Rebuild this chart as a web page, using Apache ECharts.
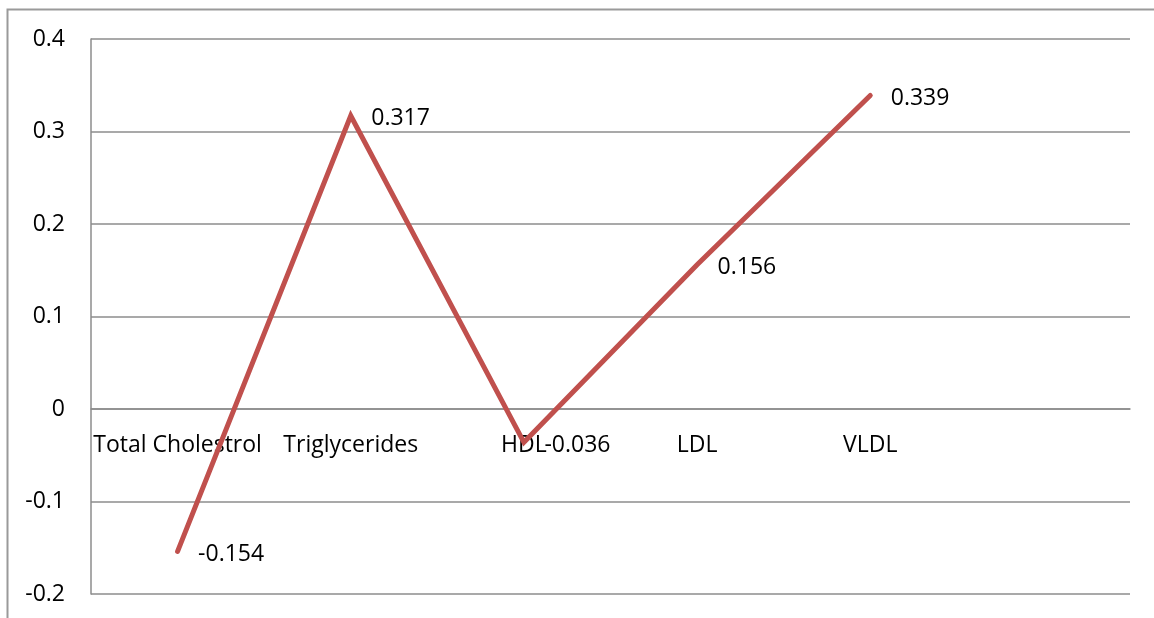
<!DOCTYPE html>
<html>
<head>
<meta charset="utf-8">
<script src="https://cdn.jsdelivr.net/npm/echarts@6/dist/echarts.min.js"></script>
<style>
  html, body { margin: 0; padding: 0; background: #fff; }
  #chart { width: 1154px; height: 618px; }
</style>
</head>
<body>
<div id="chart"></div>
<script>
// Lipid profile correlation values
const categories = ['Total Cholestrol', 'Triglycerides', 'HDL', 'LDL', 'VLDL', ''];
const values = [-0.154, 0.317, -0.036, 0.156, 0.339];
const yTicks = { min: -0.2, max: 0.4, step: 0.1 };

const FONT = '"Open Sans", "Noto Sans", sans-serif';
const FS = 23;
const GRID = { left: 91, right: 24, top: 39, bottom: 24 };
const chart = echarts.init(document.getElementById('chart'));

// place the category axis on the zero line: distance from the bottom edge
const plotH = 618 - GRID.top - GRID.bottom;
const zeroLift = plotH * (0 - yTicks.min) / (yTicks.max - yTicks.min);

chart.setOption({
  animation: false,
  backgroundColor: '#fff',
  graphic: [{
    type: 'rect',
    shape: { x: 7.5, y: 9.5, width: 1300, height: 700 },
    style: { fill: 'none', stroke: '#9a9a9a', lineWidth: 2 },
    silent: true
  }],
  grid: Object.assign({ outerBoundsMode: 'none', containLabel: false }, GRID),
  xAxis: {
    type: 'category',
    data: categories,
    boundaryGap: true,
    offset: -zeroLift,
    axisLine: { onZero: false, lineStyle: { color: '#8c8c8c', width: 1.5 } },
    axisTick: { show: false },
    axisLabel: { fontFamily: FONT, fontSize: FS, color: '#000', margin: 25, interval: 0 },
    splitLine: { show: false }
  },
  yAxis: {
    type: 'value',
    min: yTicks.min,
    max: yTicks.max,
    interval: yTicks.step,
    axisLine: { show: true, lineStyle: { color: '#8c8c8c', width: 1.5 } },
    axisTick: { show: false },
    axisLabel: { fontFamily: FONT, fontSize: FS, color: '#000', margin: 26 },
    splitLine: { show: true, lineStyle: { color: '#8c8c8c', width: 1.5 } }
  },
  series: [{
    type: 'line',
    data: values,
    symbol: 'circle',
    symbolSize: 1,
    showSymbol: true,
    lineStyle: { color: '#C0504D', width: 5, cap: 'round', join: 'miter' },
    itemStyle: { color: 'rgba(192,80,77,0)' },
    label: {
      show: true,
      position: 'right',
      distance: 20,
      offset: [0, 3],
      fontFamily: FONT,
      fontSize: FS,
      color: '#000',
      formatter: p => String(p.value)
    }
  }]
});
</script>
</body>
</html>
